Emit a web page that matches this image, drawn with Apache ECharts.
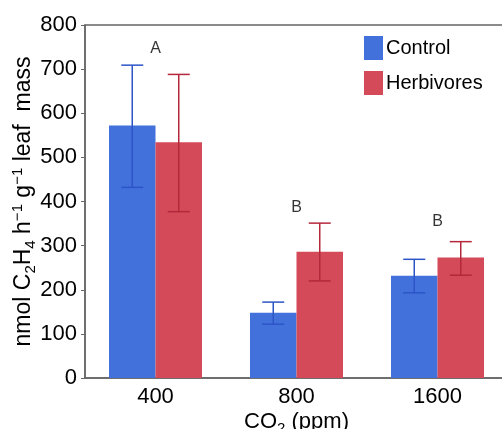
<!DOCTYPE html>
<html>
<head>
<meta charset="utf-8">
<script src="https://cdn.jsdelivr.net/npm/echarts@6/dist/echarts.min.js"></script>
<style>
  html, body { margin: 0; padding: 0; background: #fff; }
  #main { width: 502px; height: 429px; }
</style>
</head>
<body>
<div id="main"></div>
<script>
// data
var co2Levels = ['400', '800', '1600'];
var controlMean = [572, 148, 232];
var controlLow = [432, 122, 193];
var controlHigh = [709, 172, 269];
var herbMean = [534, 286, 273];
var herbLow = [377, 220, 233];
var herbHigh = [688, 351, 309];
var groupLetters = ['A', 'B', 'B'];
var letterPos = [747, 386, 355];

var BAR_W = 46.5;
var blue = '#4271dc', red = '#d44a58';

function errorSeries(name, low, high, color, side) {
  return {
    type: 'custom',
    name: name + ' err',
    z: 10,
    data: co2Levels.map(function (c, i) { return [i, low[i], high[i]]; }),
    renderItem: function (params, api) {
      var lo = api.coord([api.value(0), api.value(1)]);
      var hi = api.coord([api.value(0), api.value(2)]);
      var x = lo[0] + side * BAR_W / 2;
      var cap = 11;
      var st = { stroke: color, lineWidth: 1.5 };
      return {
        type: 'group',
        children: [
          { type: 'line', shape: { x1: x, y1: lo[1], x2: x, y2: hi[1] }, style: st },
          { type: 'line', shape: { x1: x - cap, y1: hi[1], x2: x + cap, y2: hi[1] }, style: st },
          { type: 'line', shape: { x1: x - cap, y1: lo[1], x2: x + cap, y2: lo[1] }, style: st }
        ]
      };
    }
  };
}

// rich text pieces for sub/superscripts
function richTxt(size) {
  return {
    a: { fontSize: size, lineHeight: 28, color: '#000', verticalAlign: 'middle' },
    sub: { fontSize: 15, lineHeight: 14, color: '#000', verticalAlign: 'bottom' },
    sup: { fontSize: 15, lineHeight: 22, color: '#000', verticalAlign: 'top' }
  };
}

var myChart = echarts.init(document.getElementById('main'));
myChart.setOption({
  animation: false,
  textStyle: { fontFamily: 'Liberation Sans, Arial, sans-serif' },
  grid: {
    left: 85, top: 25, width: 423, height: 353,
    outerBoundsMode: 'none', containLabel: false,
    show: true, borderColor: '#666', borderWidth: 1.5
  },
  legend: {
    data: ['Control', 'Herbivores'],
    orient: 'vertical',
    left: 364, top: 36, padding: 0,
    itemWidth: 19, itemHeight: 24, itemGap: 11,
    icon: 'rect',
    textStyle: { fontSize: 20, color: '#000', padding: [0, 0, 0, -2] }
  },
  xAxis: {
    type: 'category',
    data: co2Levels,
    name: '{a|CO}{sub|2}{a| (ppm)}',
    nameLocation: 'middle',
    nameMoveOverlap: false,
    nameGap: 30,
    nameTextStyle: { rich: richTxt(22) },
    axisLine: { lineStyle: { color: '#666', width: 1.5 } },
    axisTick: { show: false },
    axisLabel: { fontSize: 22, color: '#000', margin: 8 }
  },
  yAxis: {
    type: 'value',
    min: 0, max: 800, interval: 100,
    name: '{a|nmol C}{sub|2}{a|H}{sub|4}{a| h}{sup|\u22121}{a| g}{sup|\u22121}{a| leaf  mass}',
    nameLocation: 'middle',
    nameMoveOverlap: false,
    nameGap: 47,
    nameTextStyle: { rich: richTxt(23) },
    axisLine: { show: true, lineStyle: { color: '#666', width: 1.5 } },
    axisTick: { show: true, length: 4, lineStyle: { color: '#666' } },
    axisLabel: { fontSize: 22, color: '#000', margin: 8 },
    splitLine: { show: false }
  },
  series: [
    {
      name: 'Control', type: 'bar', data: controlMean,
      barWidth: BAR_W, barGap: '0%', itemStyle: { color: blue }
    },
    {
      name: 'Herbivores', type: 'bar', data: herbMean,
      barWidth: BAR_W, barGap: '0%', itemStyle: { color: red }
    },
    errorSeries('Control', controlLow, controlHigh, '#2d55c8', -1),
    errorSeries('Herbivores', herbLow, herbHigh, '#b4283c', 1),
    {
      type: 'scatter', name: 'letters', symbolSize: 0,
      data: co2Levels.map(function (c, i) { return [i, letterPos[i]]; }),
      label: {
        show: true, position: 'inside', fontSize: 16, color: '#000',
        formatter: function (p) { return groupLetters[p.dataIndex]; }
      }
    }
  ]
});
</script>
</body>
</html>
